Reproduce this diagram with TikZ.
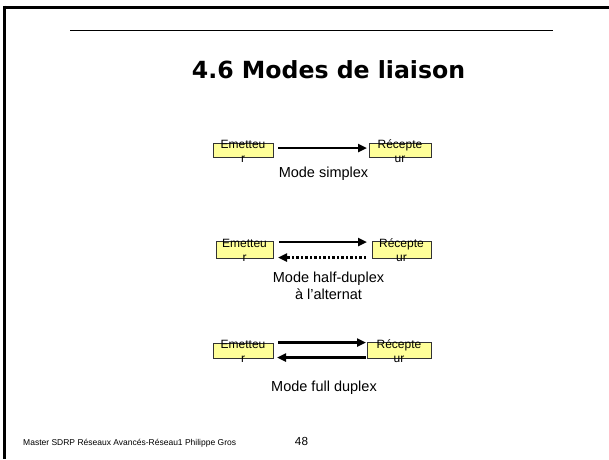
\documentclass[tikz,border=0pt]{standalone}
\usepackage{fontspec}
\setmainfont{Liberation Sans}
\newfontfamily\titlefont{DejaVu Sans}
\usetikzlibrary{arrows.meta}
\definecolor{boxyellow}{HTML}{FFFF99}
\tikzset{
  devbox/.style={draw=black!80, line width=0.6pt, fill=boxyellow},
  boxtxt/.style={anchor=base, inner sep=0pt, font=\fontsize{12}{14}\selectfont},
  lbl/.style={anchor=base, inner sep=0pt, font=\fontsize{14.5}{17}\selectfont},
  link/.style={line width=2.5pt, -{Triangle[length=9pt,width=8pt]}},
  dotlink/.style={line width=2.5pt, dash pattern=on 2.5pt off 2pt, -{Triangle[length=9pt,width=8pt]}},
}
\begin{document}
\begin{tikzpicture}[x=1pt,y=-1pt]
\useasboundingbox (0,0) rectangle (609,459);
% frame
\draw[line width=3pt] (4.5,7) coordinate (fa) -- (609,7) coordinate (fb);
\draw[line width=2.5pt] (4.5,5.5) coordinate (fc) -- (4.5,459) coordinate (fd);
\draw[line width=1pt] (70,30) coordinate (ra) -- (553,30) coordinate (rb);
\node[anchor=base, inner sep=0pt, font=\titlefont\bfseries\fontsize{23.6}{28}\selectfont] (title) at (328.5,78) {4.6 Modes de liaison};

% Row 1 simplex
\path[devbox] (213,143) rectangle (273,157);
\path[devbox] (369,143) rectangle (431,157);
\node[boxtxt] (e1a) at (243,148) {Emetteu};
\node[boxtxt] (e1b) at (243,162) {r};
\node[boxtxt] (r1a) at (400,148) {Récepte};
\node[boxtxt] (r1b) at (400,162) {ur};
\coordinate (a1s) at (278,148);
\coordinate (a1e) at (367,148);
\draw[link] (a1s) -- (a1e);
\node[lbl] (l1) at (323.5,177) {Mode simplex};

% Row 2 half duplex
\path[devbox] (216,241.5) rectangle (273,258);
\path[devbox] (372,241.5) rectangle (431,258);
\node[boxtxt] (e2a) at (244.5,247) {Emetteu};
\node[boxtxt] (e2b) at (244.5,261) {r};
\node[boxtxt] (r2a) at (401.5,247) {Récepte};
\node[boxtxt] (r2b) at (401.5,261) {ur};
\coordinate (a2s) at (279,242);
\coordinate (a2e) at (367,242);
\draw[link] (a2s) -- (a2e);
\coordinate (b2s) at (366,257.5);
\coordinate (b2e) at (278,257.5);
\draw[dotlink] (b2s) -- (b2e);
\node[lbl] (l2) at (328.5,282) {Mode half-duplex};
\node[lbl] (l2b) at (328.5,299) {à l'alternat};

% Row 3 full duplex
\path[devbox] (213,343) rectangle (273,358);
\path[devbox] (367,342.5) rectangle (431,358);
\node[boxtxt] (e3a) at (243,348) {Emetteu};
\node[boxtxt] (e3b) at (243,362) {r};
\node[boxtxt] (r3a) at (399,348) {Récepte};
\node[boxtxt] (r3b) at (399,362) {ur};
\coordinate (a3s) at (278,342.5);
\coordinate (a3e) at (366,342.5);
\draw[link] (a3s) -- (a3e);
\coordinate (b3s) at (366,357.5);
\coordinate (b3e) at (277,357.5);
\draw[link] (b3s) -- (b3e);
\node[lbl] (l3) at (324,391) {Mode full duplex};

% footer
\node[anchor=base west, inner sep=0pt, font=\fontsize{8.5}{10}\selectfont] (foot) at (23,445) {Master SDRP Réseaux Avancés-Réseau1 Philippe Gros};
\node[anchor=base, inner sep=0pt, font=\fontsize{11.7}{14}\selectfont] (page) at (301.5,445) {48};
\end{tikzpicture}
\end{document}
